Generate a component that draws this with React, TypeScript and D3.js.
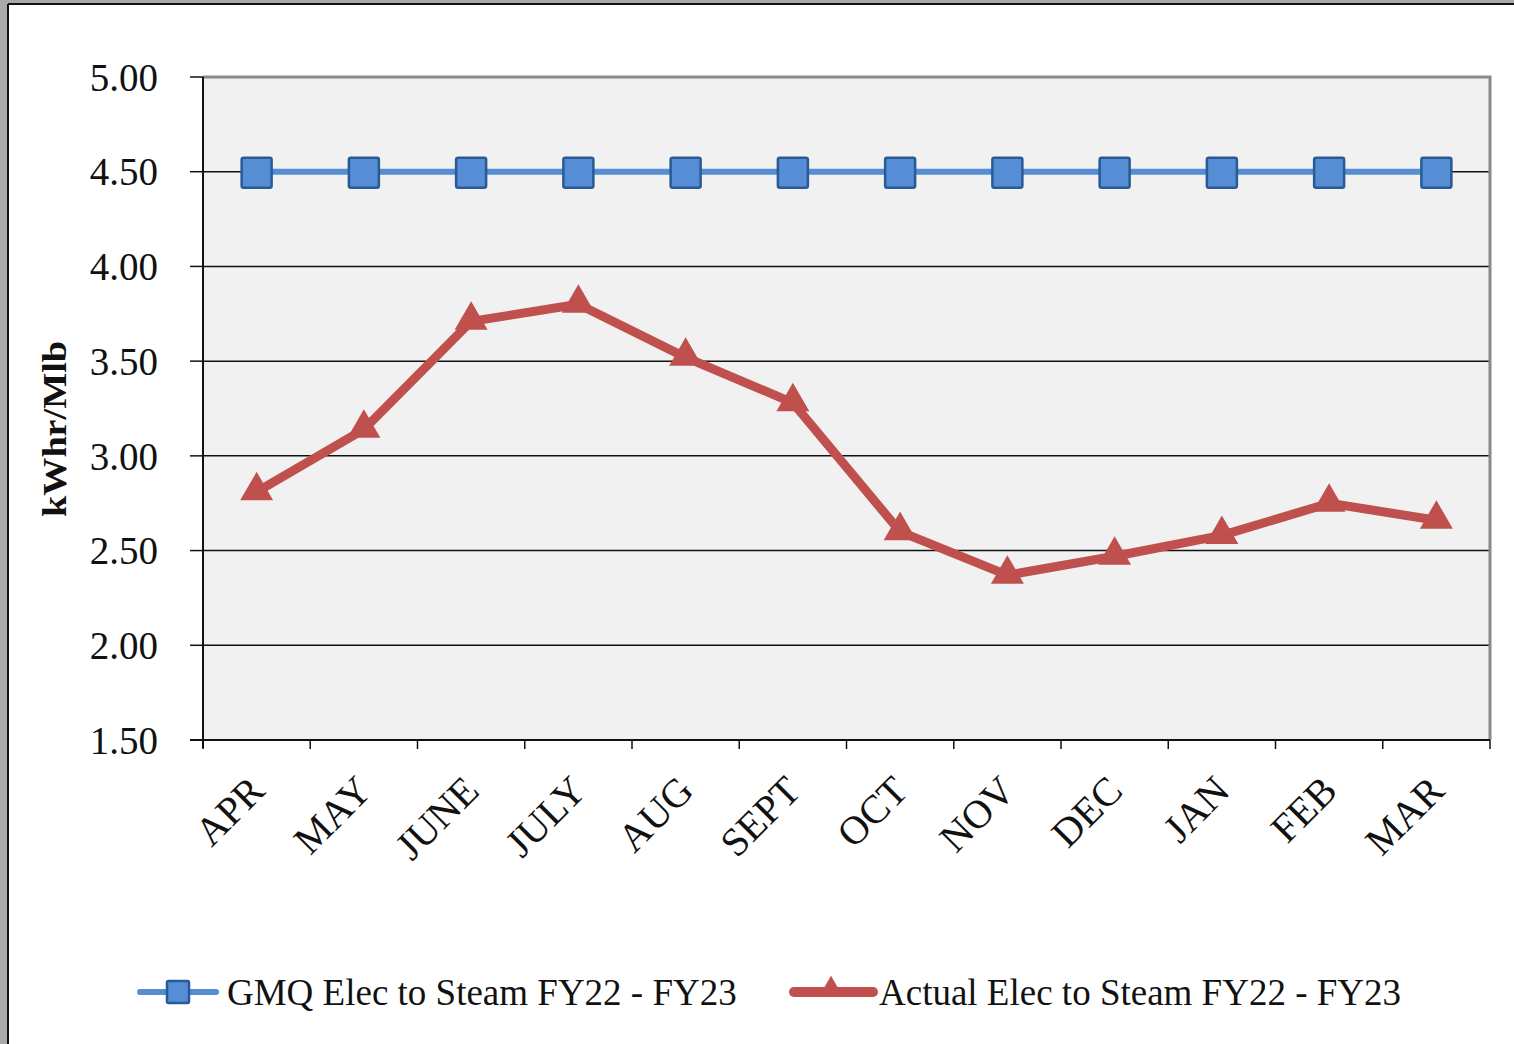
import React from 'react';
import * as d3 from 'd3';

const months = ['APR', 'MAY', 'JUNE', 'JULY', 'AUG', 'SEPT', 'OCT', 'NOV', 'DEC', 'JAN', 'FEB', 'MAR'];
const gmqValues = [4.5, 4.5, 4.5, 4.5, 4.5, 4.5, 4.5, 4.5, 4.5, 4.5, 4.5, 4.5];
const actualValues = [2.81, 3.14, 3.71, 3.8, 3.52, 3.28, 2.6, 2.37, 2.47, 2.58, 2.75, 2.66];
const yTicks = [1.5, 2.0, 2.5, 3.0, 3.5, 4.0, 4.5, 5.0];
const seriesNames = ['GMQ Elec to Steam FY22 - FY23', 'Actual Elec to Steam FY22 - FY23'];

const W = 1514;
const H = 1044;
const plot = { left: 203, right: 1490, top: 77, bottom: 740 };
const FONT = '"Liberation Serif", "Times New Roman", serif';
const BLUE = '#558ED5';
const BLUE_DARK = '#2A5A93';
const RED = '#C0504D';

const App = () => {
  const x = d3.scaleBand().domain(months).range([plot.left, plot.right]).padding(0);
  const y = d3.scaleLinear().domain([1.5, 5.0]).range([plot.bottom, plot.top]);
  const cx = (m: string) => (x(m) ?? 0) + x.bandwidth() / 2;

  const line = d3
    .line<number>()
    .x((_, i) => cx(months[i]))
    .y((d) => y(d));

  const tri = d3.symbol().type(d3.symbolTriangle).size(470)();
  const triSmall = d3.symbol().type(d3.symbolTriangle).size(230)();

  const bandEdges = months.map((m) => x(m) ?? 0).concat([plot.right]);

  return (
    <div style={{ position: 'absolute', left: 0, top: 0 }}>
      <svg width={W} height={H} style={{ display: 'block' }}>
        {/* page frame */}
        <rect x={0} y={0} width={W} height={H} fill="#a9a9a9" />
        <rect x={8} y={4} width={W} height={H} fill="#ffffff" />
        <line x1={8} y1={4} x2={W} y2={4} stroke="#111" strokeWidth={2} />
        <line x1={8} y1={4} x2={8} y2={H} stroke="#111" strokeWidth={2} />

        {/* plot area */}
        <rect
          x={plot.left}
          y={plot.top}
          width={plot.right - plot.left}
          height={plot.bottom - plot.top}
          fill="#F1F1F1"
        />

        {/* gridlines */}
        {yTicks
          .filter((t) => t > 1.5 && t < 5.0)
          .map((t) => (
            <line key={t} x1={plot.left} x2={plot.right} y1={y(t)} y2={y(t)} stroke="#111" strokeWidth={1.5} />
          ))}

        {/* top & right border */}
        <path
          d={`M${plot.left},${plot.top}H${plot.right}V${plot.bottom}`}
          fill="none"
          stroke="#8a8a8a"
          strokeWidth={3}
        />

        {/* y axis */}
        <line x1={plot.left} x2={plot.left} y1={plot.top} y2={plot.bottom + 8} stroke="#111" strokeWidth={2} />
        {yTicks.map((t) => (
          <g key={t}>
            <line x1={plot.left - 13} x2={plot.left} y1={y(t)} y2={y(t)} stroke="#111" strokeWidth={1.5} />
            <text
              x={158}
              y={y(t)}
              dy="0.35em"
              textAnchor="end"
              fontFamily={FONT}
              fontSize={39}
              fill="#111"
            >
              {t.toFixed(2)}
            </text>
          </g>
        ))}
        <text
          transform={`translate(66,${(340 + 518) / 2}) rotate(-90)`}
          textAnchor="middle"
          fontFamily={FONT}
          fontSize={33}
          fontWeight="bold"
          textLength={176}
          lengthAdjust="spacingAndGlyphs"
          fill="#111"
        >
          kWhr/Mlb
        </text>

        {/* x axis */}
        <line x1={plot.left - 13} x2={plot.right} y1={plot.bottom} y2={plot.bottom} stroke="#111" strokeWidth={2} />
        {bandEdges.map((e, i) => (
          <line key={i} x1={e} x2={e} y1={plot.bottom} y2={plot.bottom + 9} stroke="#111" strokeWidth={1.5} />
        ))}
        {months.map((m) => (
          <text
            key={m}
            transform={`translate(${cx(m)},${plot.bottom + 43}) rotate(-45)`}
            textAnchor="end"
            dy="0.35em"
            fontFamily={FONT}
            fontSize={40}
            fill="#111"
          >
            {m}
          </text>
        ))}

        {/* GMQ series */}
        <path d={line(gmqValues) ?? ''} fill="none" stroke={BLUE} strokeWidth={6} />
        {gmqValues.map((v, i) => (
          <rect
            key={i}
            x={cx(months[i]) - 15}
            y={y(v) - 14}
            width={30}
            height={30}
            rx={2}
            fill={BLUE}
            stroke={BLUE_DARK}
            strokeWidth={2.5}
          />
        ))}

        {/* Actual series */}
        <path
          d={line(actualValues) ?? ''}
          fill="none"
          stroke={RED}
          strokeWidth={9}
          strokeLinejoin="round"
        />
        {actualValues.map((v, i) => (
          <path key={i} d={tri ?? ''} transform={`translate(${cx(months[i])},${y(v) - 1})`} fill={RED} />
        ))}

        {/* legend */}
        <g>
          <line x1={140} x2={216} y1={992} y2={992} stroke={BLUE} strokeWidth={6} strokeLinecap="round" />
          <rect x={167} y={981} width={22} height={22} rx={1.5} fill={BLUE} stroke={BLUE_DARK} strokeWidth={2.5} />
          <text x={227} y={992} dy="0.35em" fontFamily={FONT} fontSize={37} fill="#111">
            {seriesNames[0]}
          </text>
          <line x1={794} x2={873} y1={992} y2={992} stroke={RED} strokeWidth={10} strokeLinecap="round" />
          <path d={triSmall ?? ''} transform={`translate(831,989)`} fill={RED} />
          <text x={879} y={992} dy="0.35em" fontFamily={FONT} fontSize={37} fill="#111">
            {seriesNames[1]}
          </text>
        </g>
      </svg>
    </div>
  );
};

export default App;
